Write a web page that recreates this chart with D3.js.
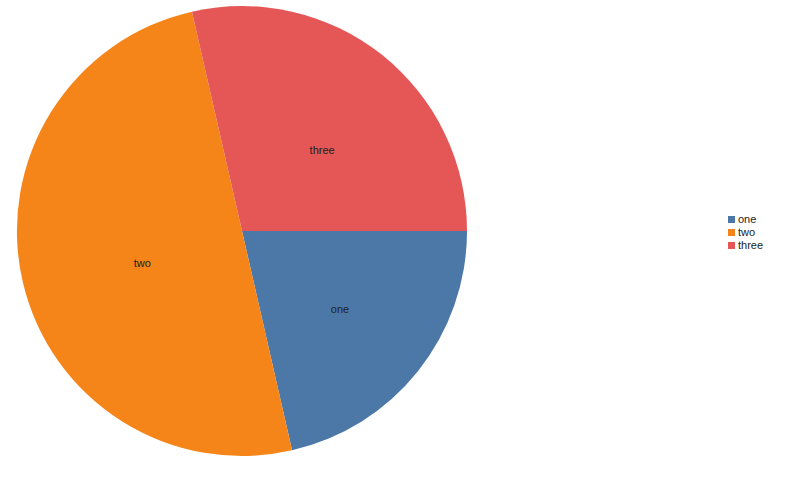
<!DOCTYPE html>
<html lang="en">
<head>
   <meta charset="UTF-8">
   <title>Pie Chart</title>
   <style>
      html, body { margin: 0; background: #fff; }
      text { font-family: "Liberation Sans", sans-serif; font-size: 11px; fill: #222; }
   </style>
   <script src="https://cdn.jsdelivr.net/npm/d3@7"></script>
</head>
<body>
   <div class="d3"></div>
   <script>
      // data
      const categories = ['one', 'two', 'three']
      const values = [3, 7, 4]
      const colors = ['#4c78a8', '#f58518', '#e45756']

      const WIDTH = 800
      const HEIGHT = 480
      const center = { x: 242, y: 231 }
      const radius = 225
      // labels sit at half radius, nudged a little right/down
      const labelOffset = { x: 10, y: 7.5 }

      const svg = d3.select('.d3').append('svg')
         .attr('width', WIDTH)
         .attr('height', HEIGHT)

      const color = d3.scaleOrdinal().domain(categories).range(colors)

      const pie = d3.pie()
         .sort(null)
         .value(d => d.value)
         .startAngle(Math.PI / 2)
         .endAngle(Math.PI / 2 + 2 * Math.PI)

      const data = categories.map((c, i) => ({ category: c, value: values[i] }))

      const arc = d3.arc().innerRadius(0).outerRadius(radius)
      const labelArc = d3.arc().innerRadius(radius / 2).outerRadius(radius / 2)

      const chart = svg.append('g')
         .attr('transform', `translate(${center.x}, ${center.y})`)

      chart.selectAll('path')
         .data(pie(data))
         .enter()
         .append('path')
         .attr('d', arc)
         .attr('fill', d => color(d.data.category))

      chart.append('g')
         .attr('transform', `translate(${labelOffset.x}, ${labelOffset.y})`)
         .selectAll('text')
         .data(pie(data))
         .enter()
         .append('text')
         .attr('transform', d => `translate(${labelArc.centroid(d)})`)
         .attr('text-anchor', 'middle')
         .attr('dy', '0.35em')
         .text(d => d.data.category)

      // legend
      const legend = svg.append('g')
         .attr('transform', 'translate(728, 216)')

      const items = legend.selectAll('g')
         .data(categories)
         .enter()
         .append('g')
         .attr('transform', (d, i) => `translate(0, ${i * 13})`)

      items.append('rect')
         .attr('width', 7)
         .attr('height', 7)
         .attr('fill', d => color(d))

      items.append('text')
         .attr('x', 10)
         .attr('y', 3.5)
         .attr('dy', '0.35em')
         .text(d => d)
   </script>
</body>
</html>
